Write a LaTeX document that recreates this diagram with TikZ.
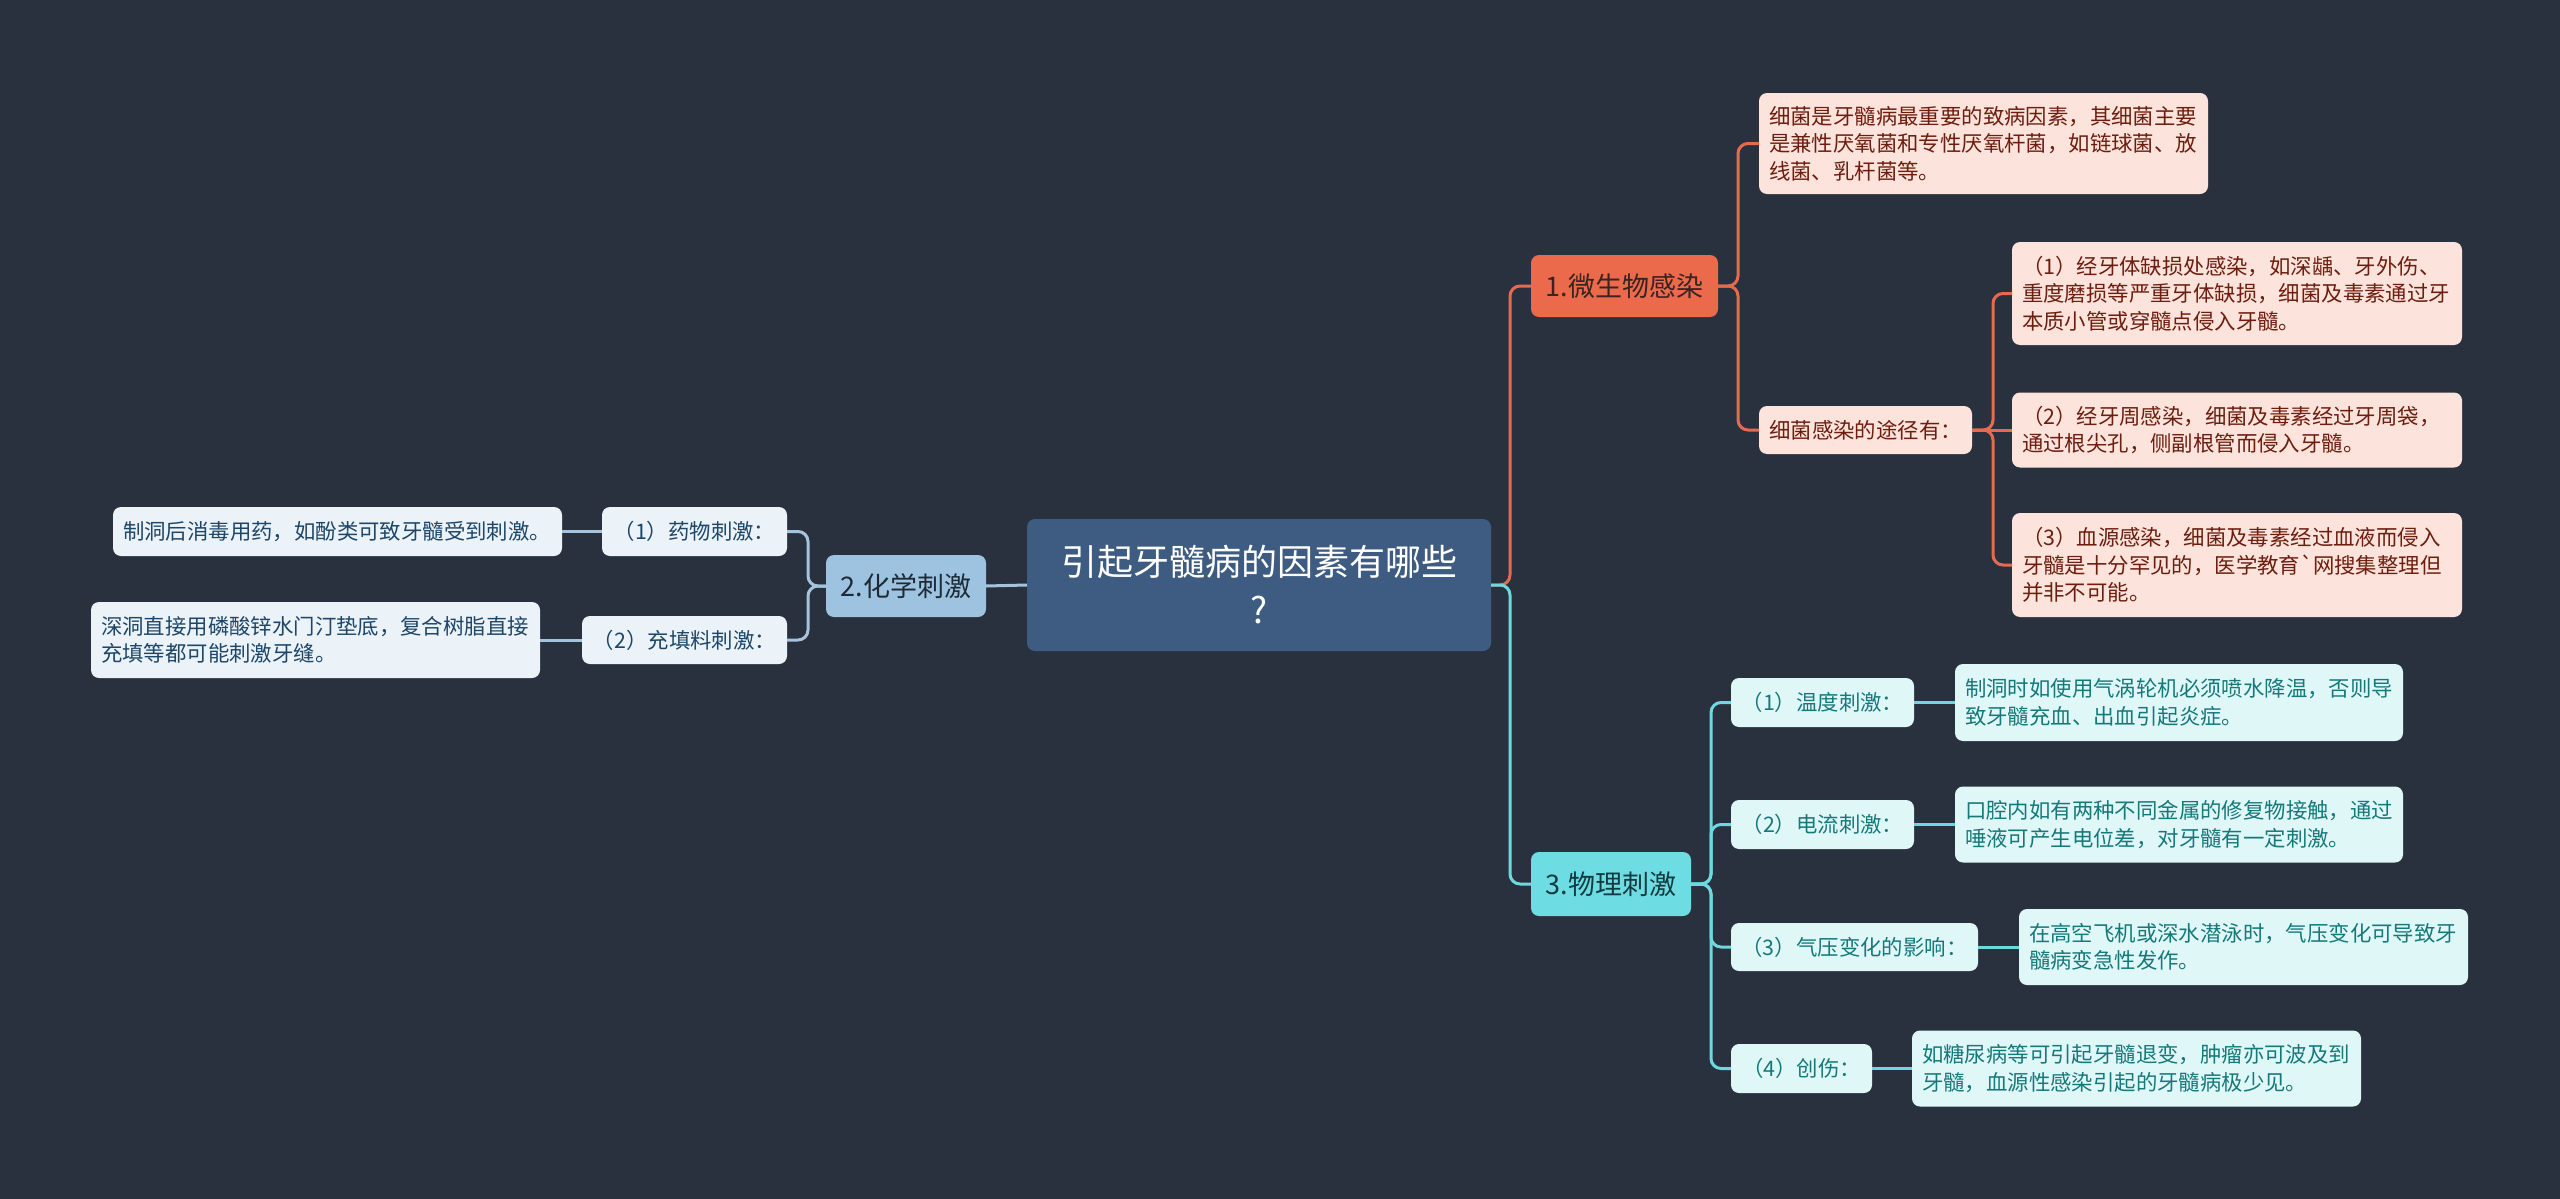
\documentclass[tikz,border=0pt]{standalone}
\usepackage{fontspec}
\setmainfont{Noto Sans CJK SC}
\newfontfamily\plaincjk{Noto Sans CJK SC}
\definecolor{bg}{HTML}{29313F}
\definecolor{rootfill}{HTML}{3E5C82}
\definecolor{redfill}{HTML}{EC6A4C}
\definecolor{redtext}{HTML}{3A2320}
\definecolor{redline}{HTML}{E56A4E}
\definecolor{redleaf}{HTML}{FCE3DC}
\definecolor{redleaftext}{HTML}{6E1E0F}
\definecolor{bluefill}{HTML}{9DC3E0}
\definecolor{bluetext}{HTML}{1E2A36}
\definecolor{blueline}{HTML}{A4C4DE}
\definecolor{blueleaf}{HTML}{EBF3F9}
\definecolor{blueleaftext}{HTML}{1D4668}
\definecolor{cyanfill}{HTML}{6EDDE3}
\definecolor{cyantext}{HTML}{123B40}
\definecolor{cyanline}{HTML}{6ED8E0}
\definecolor{cyanleaf}{HTML}{E0F7F7}
\definecolor{cyanleaftext}{HTML}{15797A}
\tikzset{
  basebox/.style={rounded corners=8pt, inner ysep=0pt, outer sep=0pt},
  smallfont/.style={font=\fontsize{21.4}{27.5}\selectfont},
  leafbox/.style={basebox, smallfont, inner xsep=10pt, align=left, anchor=west},
  labelbox/.style={basebox, smallfont, inner xsep=4pt, align=center},
  mainbox/.style={basebox, font=\fontsize{27}{32}\selectfont, align=center},
  rtleaf/.style={leafbox, fill=redleaf, text=redleaftext},
  rtlabel/.style={labelbox, fill=redleaf, text=redleaftext},
  blleaf/.style={leafbox, fill=blueleaf, text=blueleaftext},
  bllabel/.style={labelbox, fill=blueleaf, text=blueleaftext},
  cyleaf/.style={leafbox, fill=cyanleaf, text=cyanleaftext},
  cylabel/.style={labelbox, fill=cyanleaf, text=cyanleaftext},
  conn/.style={line width=3pt, rounded corners=10pt},
}
\begin{document}
\begin{tikzpicture}[x=1pt, y=-1pt]
\fill[bg] (0,0) rectangle (2560,1199);
\useasboundingbox (0,0) rectangle (2560,1199);

% root
\node[basebox, fill=rootfill, text=white, minimum width=464pt, minimum height=132pt,
      font=\fontsize{36}{48}\selectfont, align=center] (root) at (1259,585)
  {引起牙髓病的因素有哪些\\?};

% main branches
\node[mainbox, fill=redfill, text=redtext, minimum width=187pt, minimum height=62pt] (n1) at (1624.5,286) {1.微生物感染};
\node[mainbox, fill=bluefill, text=bluetext, minimum width=160pt, minimum height=62pt] (n2) at (906,586) {2.化学刺激};
\node[mainbox, fill=cyanfill, text=cyantext, minimum width=160pt, minimum height=64pt] (n3) at (1611,884) {3.物理刺激};

% branch 1 children
\node[rtleaf, text width=429pt, minimum height=101pt] (r1) at (1759,143.5)
  {细菌是牙髓病最重要的致病因素，其细菌主要\\是兼性厌氧菌和专性厌氧杆菌，如链球菌、放\\线菌、乳杆菌等。};
\node[rtlabel, minimum width=213pt, minimum height=48pt] (r2) at (1865.5,430) {细菌感染的途径有：};
\node[rtleaf, text width=430pt, minimum height=103pt] (c1) at (2012,293.5)
  {（1）经牙体缺损处感染，如深龋、牙外伤、\\重度磨损等严重牙体缺损，细菌及毒素通过牙\\本质小管或穿髓点侵入牙髓。};
\node[rtleaf, text width=430pt, minimum height=75pt] (c2) at (2012,430)
  {（2）经牙周感染，细菌及毒素经过牙周袋，\\通过根尖孔，侧副根管而侵入牙髓。};
\node[rtleaf, text width=430pt, minimum height=104pt] (c3) at (2012,565)
  {（3）血源感染，细菌及毒素经过血液而侵入\\牙髓是十分罕见的，医学教育{\plaincjk `}网搜集整理但\\并非不可能。};

% branch 2 children
\node[bllabel, minimum width=185pt, minimum height=49pt] (l1) at (694.5,531.5) {（1）药物刺激：};
\node[bllabel, minimum width=205pt, minimum height=48pt] (l2) at (684.5,640) {（2）充填料刺激：};
\node[blleaf, text width=429pt, minimum height=49pt] (ll1) at (113,531.5)
  {制洞后消毒用药，如酚类可致牙髓受到刺激。};
\node[blleaf, text width=429pt, minimum height=76pt] (ll2) at (91,640)
  {深洞直接用磷酸锌水门汀垫底，复合树脂直接\\充填等都可能刺激牙缝。};

% branch 3 children
\node[cylabel, minimum width=183pt, minimum height=49pt] (p1) at (1822.5,702.5) {（1）温度刺激：};
\node[cylabel, minimum width=183pt, minimum height=49pt] (p2) at (1822.5,824.5) {（2）电流刺激：};
\node[cylabel, minimum width=247pt, minimum height=48pt] (p3) at (1854.5,947) {（3）气压变化的影响：};
\node[cylabel, minimum width=141pt, minimum height=49pt] (p4) at (1801.5,1068.5) {（4）创伤：};
\node[cyleaf, text width=428pt, minimum height=77pt] (q1) at (1955,702.5)
  {制洞时如使用气涡轮机必须喷水降温，否则导\\致牙髓充血、出血引起炎症。};
\node[cyleaf, text width=428pt, minimum height=76pt] (q2) at (1955,824.5)
  {口腔内如有两种不同金属的修复物接触，通过\\唾液可产生电位差，对牙髓有一定刺激。};
\node[cyleaf, text width=429pt, minimum height=76pt] (q3) at (2019,947)
  {在高空飞机或深水潜泳时，气压变化可导致牙\\髓病变急性发作。};
\node[cyleaf, text width=429pt, minimum height=76pt] (q4) at (1912,1068.5)
  {如糖尿病等可引起牙髓退变，肿瘤亦可波及到\\牙髓，血源性感染引起的牙髓病极少见。};

% connectors: trunk
\draw[conn, redline] (root.east) -- ++(19,0) |- (n1.west);
\draw[conn, cyanline] (root.east) -- ++(19,0) |- (n3.west);
\draw[conn, blueline] (root.west) -- (n2.east);

% branch 1
\draw[conn, redline] (n1.east) -- ++(20,0) |- (r1.west);
\draw[conn, redline] (n1.east) -- ++(20,0) |- (r2.west);
\draw[conn, redline] (r2.east) -- ++(21,0) |- (c1.west);
\draw[conn, redline] (r2.east) -- (c2.west);
\draw[conn, redline] (r2.east) -- ++(21,0) |- (c3.west);

% branch 2
\draw[conn, blueline] (n2.west) -- ++(-18,0) |- (l1.east);
\draw[conn, blueline] (n2.west) -- ++(-18,0) |- (l2.east);
\draw[conn, blueline] (l1.west) -- (ll1.east);
\draw[conn, blueline] (l2.west) -- (ll2.east);

% branch 3
\draw[conn, cyanline] (n3.east) -- ++(20,0) |- (p1.west);
\draw[conn, cyanline] (n3.east) -- ++(20,0) |- (p2.west);
\draw[conn, cyanline] (n3.east) -- ++(20,0) |- (p3.west);
\draw[conn, cyanline] (n3.east) -- ++(20,0) |- (p4.west);
\draw[conn, cyanline] (p1.east) -- (q1.west);
\draw[conn, cyanline] (p2.east) -- (q2.west);
\draw[conn, cyanline] (p3.east) -- (q3.west);
\draw[conn, cyanline] (p4.east) -- (q4.west);
\end{tikzpicture}
\end{document}
